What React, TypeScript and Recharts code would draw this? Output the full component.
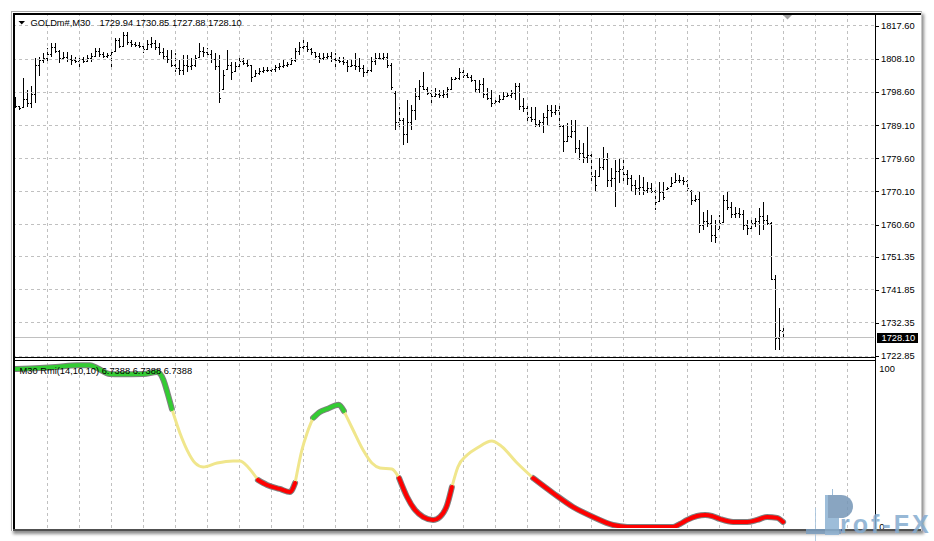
import React from 'react';
import { ComposedChart, LineChart, Bar, Line, XAxis, YAxis, ReferenceLine } from 'recharts';

const FONT = "'Liberation Sans', Arial, sans-serif";

const symbolTitle = 'GOLDm#,M30';
const lastQuote = '1729.94 1730.85 1727.88 1728.10';
const rmiTitle = 'M30 Rmi(14,10,10) 6.7388 6.7388 6.7388';

const opens = [
  1796.0, 1794.5, 1794.1, 1796.5, 1795.5, 1798.0, 1806.5, 1807.8, 1808.3, 1809.5,
  1811.5, 1810.5, 1808.5, 1808.8, 1808.0, 1807.8, 1807.5, 1808.0, 1807.5, 1808.5,
  1809.0, 1810.5, 1809.5, 1809.0, 1809.2, 1810.2, 1813.5, 1812.0, 1815.0, 1813.0,
  1812.5, 1812.2, 1812.0, 1811.0, 1812.5, 1812.8, 1811.5, 1810.0, 1809.0, 1808.0,
  1806.5, 1805.5, 1805.0, 1806.5, 1806.0, 1806.5, 1808.5, 1810.5, 1810.0, 1809.5,
  1808.0, 1806.0, 1799.5, 1805.0, 1806.5, 1804.5, 1806.0, 1807.5, 1807.0, 1806.3,
  1803.0, 1804.0, 1804.8, 1805.0, 1805.0, 1805.2, 1805.8, 1806.0, 1806.5, 1806.8,
  1807.8, 1810.5, 1811.5, 1812.0, 1811.0, 1810.0, 1809.0, 1808.5, 1808.8, 1809.0,
  1808.2, 1807.8, 1807.5, 1807.2, 1806.0, 1806.5, 1806.0, 1805.5, 1804.5, 1805.0,
  1807.5, 1808.5, 1808.5, 1808.8, 1806.5, 1798.5, 1790.0, 1790.5, 1786.5, 1790.0,
  1793.5, 1797.5, 1800.5, 1799.5, 1798.5, 1797.5, 1798.2, 1797.8, 1798.0, 1799.5,
  1802.5, 1802.6, 1804.5, 1803.5, 1803.0, 1802.0, 1799.5, 1801.0, 1798.0, 1797.0,
  1795.5, 1796.0, 1796.5, 1797.5, 1797.8, 1798.5, 1800.5, 1794.5, 1794.0, 1791.5,
  1791.0, 1789.5, 1790.0, 1791.5, 1793.5, 1793.0, 1793.5, 1789.0, 1784.5, 1786.0,
  1787.5, 1782.5, 1781.0, 1780.0, 1780.5, 1774.5, 1774.5, 1777.0, 1779.5, 1773.5,
  1774.0, 1776.0, 1776.5, 1775.0, 1774.0, 1772.0, 1771.0, 1771.5, 1770.5, 1771.0,
  1770.2, 1767.2, 1770.0, 1770.6, 1771.5, 1772.5, 1773.5, 1773.5, 1773.0, 1770.3,
  1767.5, 1768.0, 1760.5, 1761.5, 1761.0, 1757.5, 1759.2, 1761.1, 1767.5, 1765.5,
  1763.5, 1764.0, 1763.5, 1760.5, 1759.5, 1761.0, 1761.5, 1763.0, 1762.0, 1761.0,
  1745.0, 1728.0, 1729.94,
];

const highs = [
  1797.22, 1794.63, 1802.67, 1799.23, 1800.37, 1808.41, 1808.70, 1809.85, 1811.28, 1812.72,
  1812.72, 1810.71, 1810.14, 1810.14, 1809.27, 1808.70, 1809.27, 1808.70, 1809.27, 1809.85,
  1811.28, 1811.28, 1810.14, 1809.85, 1810.71, 1814.15, 1814.15, 1815.88, 1815.88, 1813.58,
  1813.01, 1813.01, 1812.72, 1813.58, 1814.44, 1813.58, 1812.72, 1811.28, 1810.71, 1810.71,
  1809.85, 1807.84, 1809.27, 1809.27, 1808.41, 1809.27, 1812.72, 1811.57, 1811.28, 1810.71,
  1809.85, 1809.27, 1804.97, 1810.71, 1807.26, 1807.26, 1809.27, 1808.41, 1807.84, 1806.40,
  1804.97, 1805.54, 1805.83, 1805.83, 1805.83, 1806.40, 1806.98, 1807.84, 1807.26, 1808.41,
  1811.28, 1813.01, 1813.58, 1813.01, 1811.28, 1810.14, 1809.85, 1809.85, 1809.85, 1810.14,
  1809.85, 1808.70, 1808.70, 1807.84, 1807.84, 1809.85, 1808.41, 1806.40, 1805.54, 1808.70,
  1809.85, 1809.85, 1809.85, 1809.85, 1806.98, 1799.00, 1794.34, 1791.19, 1796.35, 1794.92,
  1799.80, 1802.10, 1804.39, 1800.09, 1799.23, 1799.80, 1799.23, 1799.23, 1800.09, 1802.96,
  1802.96, 1805.54, 1804.97, 1804.11, 1803.53, 1802.10, 1802.10, 1802.67, 1799.80, 1799.23,
  1797.22, 1797.79, 1798.65, 1798.65, 1799.23, 1801.24, 1801.24, 1796.93, 1794.92, 1794.34,
  1794.34, 1790.61, 1792.62, 1794.92, 1794.92, 1794.92, 1794.92, 1789.18, 1789.75, 1790.61,
  1790.61, 1784.87, 1784.01, 1788.60, 1781.43, 1776.26, 1779.70, 1782.86, 1781.14, 1776.83,
  1779.13, 1779.70, 1779.70, 1776.26, 1774.82, 1773.39, 1774.82, 1774.25, 1772.81, 1772.53,
  1770.52, 1772.81, 1772.81, 1771.38, 1774.25, 1775.40, 1774.82, 1774.25, 1773.39, 1770.52,
  1769.08, 1769.94, 1764.20, 1764.77, 1763.34, 1761.90, 1763.34, 1769.08, 1769.94, 1767.07,
  1765.63, 1765.35, 1764.77, 1761.90, 1762.48, 1762.48, 1765.35, 1767.07, 1763.34, 1761.33,
  1746.11, 1736.64, 1730.85,
];

const lows = [
  1794.06, 1793.48, 1794.06, 1794.34, 1794.06, 1795.49, 1803.24, 1806.98, 1807.26, 1808.70,
  1809.85, 1806.98, 1807.84, 1807.26, 1806.40, 1806.98, 1805.83, 1806.98, 1807.26, 1807.26,
  1808.70, 1808.70, 1808.41, 1808.41, 1805.83, 1810.14, 1811.28, 1811.57, 1812.15, 1811.57,
  1811.57, 1811.28, 1809.85, 1810.71, 1811.28, 1810.71, 1809.27, 1807.84, 1806.98, 1805.83,
  1804.39, 1803.53, 1803.53, 1804.39, 1804.97, 1805.83, 1808.41, 1808.70, 1808.41, 1806.98,
  1804.97, 1795.49, 1799.23, 1804.97, 1802.10, 1804.39, 1805.83, 1806.40, 1805.83, 1801.52,
  1802.96, 1803.53, 1804.11, 1804.39, 1804.39, 1804.39, 1804.97, 1805.54, 1805.83, 1806.40,
  1807.26, 1809.27, 1810.71, 1810.14, 1809.27, 1808.41, 1806.98, 1807.84, 1807.84, 1807.26,
  1805.83, 1806.98, 1806.40, 1804.39, 1805.83, 1804.97, 1804.39, 1802.96, 1804.11, 1804.39,
  1806.40, 1807.84, 1807.84, 1805.54, 1799.23, 1787.74, 1788.32, 1783.44, 1784.01, 1787.74,
  1790.61, 1796.35, 1799.23, 1797.79, 1794.92, 1797.22, 1796.93, 1796.93, 1796.93, 1799.23,
  1802.10, 1802.10, 1802.67, 1802.67, 1801.52, 1798.36, 1798.36, 1796.93, 1796.35, 1794.34,
  1794.92, 1795.49, 1796.35, 1797.22, 1796.93, 1796.35, 1793.48, 1792.91, 1790.04, 1790.04,
  1788.60, 1788.60, 1786.88, 1789.18, 1791.47, 1792.05, 1787.74, 1781.43, 1784.30, 1785.44,
  1781.14, 1779.13, 1778.27, 1778.27, 1772.81, 1769.94, 1774.25, 1776.26, 1771.38, 1771.38,
  1765.63, 1772.53, 1772.53, 1771.95, 1769.94, 1769.08, 1769.08, 1769.08, 1769.65, 1769.65,
  1764.77, 1767.07, 1767.64, 1770.52, 1771.38, 1772.53, 1772.53, 1771.95, 1769.94, 1766.21,
  1767.07, 1758.17, 1759.03, 1759.89, 1755.59, 1755.30, 1759.03, 1761.04, 1764.77, 1762.48,
  1762.48, 1762.48, 1759.03, 1757.60, 1758.46, 1759.89, 1757.60, 1759.03, 1760.47, 1744.68,
  1724.58, 1724.58, 1727.88,
];

const closes = [
  1794.5, 1794.0, 1796.5, 1795.5, 1798.0, 1806.5, 1807.8, 1808.3, 1809.5, 1811.5,
  1810.5, 1808.5, 1808.8, 1808.0, 1807.8, 1807.5, 1808.0, 1807.5, 1808.5, 1809.0,
  1810.5, 1809.5, 1809.0, 1809.2, 1810.0, 1813.5, 1812.0, 1815.0, 1813.0, 1812.5,
  1812.2, 1812.0, 1811.0, 1812.5, 1812.8, 1811.5, 1810.0, 1809.0, 1808.0, 1806.5,
  1805.5, 1805.0, 1806.5, 1806.0, 1806.5, 1808.5, 1810.5, 1810.0, 1809.5, 1808.0,
  1806.0, 1797.0, 1803.5, 1806.5, 1804.5, 1806.0, 1807.5, 1807.0, 1806.5, 1803.0,
  1804.0, 1804.8, 1805.0, 1805.0, 1805.2, 1805.8, 1806.0, 1806.5, 1806.8, 1807.8,
  1810.5, 1811.5, 1812.0, 1811.0, 1810.0, 1809.0, 1808.5, 1808.8, 1809.0, 1808.2,
  1807.8, 1807.5, 1807.2, 1806.0, 1806.5, 1806.0, 1805.5, 1804.5, 1805.0, 1807.5,
  1808.5, 1808.5, 1808.8, 1806.5, 1800.0, 1790.0, 1790.5, 1786.5, 1790.0, 1793.5,
  1797.5, 1800.5, 1799.5, 1798.5, 1797.5, 1798.2, 1797.8, 1798.0, 1799.5, 1802.5,
  1802.6, 1804.5, 1803.5, 1803.0, 1802.0, 1799.5, 1801.0, 1798.0, 1797.0, 1795.5,
  1796.0, 1796.5, 1797.5, 1797.8, 1798.5, 1800.5, 1794.5, 1794.0, 1791.5, 1791.0,
  1789.5, 1790.0, 1791.5, 1793.5, 1793.0, 1793.5, 1789.0, 1784.5, 1786.0, 1787.5,
  1782.5, 1781.0, 1780.0, 1780.5, 1774.5, 1772.0, 1777.0, 1779.5, 1773.5, 1774.0,
  1776.0, 1776.5, 1775.0, 1774.0, 1772.0, 1771.0, 1771.5, 1770.5, 1771.0, 1770.2,
  1767.0, 1770.0, 1768.5, 1771.0, 1772.5, 1773.5, 1773.5, 1773.0, 1771.0, 1767.5,
  1768.0, 1760.5, 1761.5, 1761.0, 1757.5, 1757.0, 1761.0, 1767.5, 1765.5, 1763.5,
  1764.0, 1763.5, 1760.5, 1759.5, 1761.0, 1761.5, 1763.0, 1762.0, 1761.0, 1745.0,
  1728.0, 1730.2, 1728.10,
];

const lastClose = 1728.10;
const priceTicks = [1817.60, 1808.10, 1798.60, 1789.10, 1779.60, 1770.10, 1760.60, 1751.35, 1741.85, 1732.35, 1722.85];
const priceDomain = [1722.28, 1821.045];
const gridBars = [8, 16, 24, 32, 40, 48, 56, 64, 72, 80, 88, 96, 104, 112, 120, 128, 136, 144, 152, 160, 168, 176, 184, 192, 200, 208];
const slotCount = 215;

// RMI indicator, read at bar positions
const rmiIndex = [
  0, 6, 10, 15.4, 18.6, 20.4, 23.6, 26, 32, 35.4, 37, 38, 39.1,
  41.1, 42.9, 44.9, 46.9, 50.4, 54.4, 56.1, 58.1, 60.6,
  62.9, 66.1, 68.6, 69.9,
  71.6, 72.9, 74.4,
  76.1, 77.9, 80.8, 82.1,
  84.4, 86.9, 89.1, 91.1, 94.1, 95.9,
  97.9, 99.9, 101.9, 104.4, 106.1, 107.9, 109.1,
  110.6, 112.9, 115.4, 119.1, 121.1, 125.4, 129.4,
  134.4, 139.4, 144.4, 149.4, 152.9, 158.6, 164.4, 166.1, 167.9, 170.4, 172.4, 174.1, 176.1, 179.4, 182.9, 185.4, 187.9, 190.4, 191.9,
];
const rmiValue = [
  99.6, 100.2, 100.8, 102, 102, 100.2, 96.4, 96.2, 96.4, 97.7, 92.6, 84.4, 74.3,
  59.1, 48.3, 40.1, 37.6, 40.1, 41.4, 41.4, 37.6, 29.4,
  26.2, 23.7, 21.8, 27.5,
  48.3, 59.1, 68.6,
  72.4, 74.3, 77.0, 73.0,
  61.0, 48.3, 40.1, 37.0, 36.3, 30.6,
  18.6, 10.4, 6.0, 4.1, 6.0, 13.5, 24.9,
  37.6, 45.2, 49.6, 54.0, 51.5, 40.1, 30.6,
  21.1, 12.3, 6.0, 0.9, -0.3, -0.4, -0.3, 1.5, 4.1, 6.6, 7.2, 6.6, 4.7, 2.8, 2.8, 4.1, 6.0, 5.4, 2.8,
];
const rmiZones = [
  { zone: 'up', from: 0, to: 12 },
  { zone: 'mid', from: 12, to: 21 },
  { zone: 'down', from: 21, to: 25 },
  { zone: 'mid', from: 25, to: 28 },
  { zone: 'up', from: 28, to: 32 },
  { zone: 'mid', from: 32, to: 38 },
  { zone: 'down', from: 38, to: 45 },
  { zone: 'mid', from: 45, to: 52 },
  { zone: 'down', from: 52, to: 71 },
];
const rmiTicks = [0, 100];
const rmiDomain = [-1, 104];

const zoneColor: Record<string, string> = { up: '#33cc33', mid: '#f0e68c', down: '#ff0000' };

const rows = Array.from({ length: slotCount }, (_, i) =>
  i < highs.length
    ? { i, range: [lows[i], highs[i]], o: opens[i], h: highs[i], l: lows[i], c: closes[i] }
    : { i, range: null }
);

const rmiSegments = rmiZones.map((z) => ({
  zone: z.zone,
  points: rmiIndex.slice(z.from, z.to + 1).map((x, k) => ({ x, v: rmiValue[z.from + k] })),
}));

const OhlcShape = (props: any) => {
  const { x, y, width, height, payload } = props;
  if (!payload || payload.h == null || x == null || y == null) return null;
  const top = Math.min(y, y + height);
  const h = Math.abs(height);
  const span = payload.h - payload.l;
  const toY = (p: number) => (span > 0 ? top + ((payload.h - p) / span) * h : top);
  const cx = Math.floor(x + width / 2);
  const yTop = Math.round(top);
  const yBot = Math.round(top + h);
  const yo = Math.min(yBot - 1, Math.round(toY(payload.o)));
  const yc = Math.min(yBot - 1, Math.round(toY(payload.c)));
  return (
    <g shapeRendering="crispEdges" fill="#000">
      <rect x={cx} y={yTop} width={1} height={Math.max(1, yBot - yTop)} />
      <rect x={cx - 1} y={yo} width={1} height={1} />
      <rect x={cx + 1} y={yc} width={1} height={1} />
    </g>
  );
};

const PriceTick = (props: any) => {
  const { x, y, payload } = props;
  const v = payload.value as number;
  const label = v.toFixed(2);
  if (Math.abs(v - lastClose) < 1e-6) {
    return (
      <g>
        <rect x={x + 3.5} y={Math.round(y) - 5} width={41} height={10} fill="#000" shapeRendering="crispEdges" />
        <text x={x + 8} y={y} dy={3.3} fill="#fff" fontSize={9.3} fontFamily={FONT}>{label}</text>
      </g>
    );
  }
  const ly = Math.round(y) + 0.5;
  return (
    <g>
      <line x1={x + 2.5} x2={x + 5.5} y1={ly} y2={ly} stroke="#000" strokeWidth={1} shapeRendering="crispEdges" />
      <text x={x + 7.5} y={y} dy={3.3} fill="#000" fontSize={9.3} fontFamily={FONT}>{label}</text>
    </g>
  );
};

const RmiTick = (props: any) => {
  const { x, y, payload } = props;
  return (
    <text x={x + 5.8} y={y} dy={3.3} fill="#000" fontSize={9.3} fontFamily={FONT}>{String(payload.value)}</text>
  );
};

export default function App() {
  return (
    <div style={{ position: 'absolute', left: 0, top: 0, width: 934, height: 541, background: '#fff', overflow: 'hidden' }}>
      {/* window body */}
      <div
        style={{
          position: 'absolute', left: 11, top: 11, width: 911, height: 520, boxSizing: 'border-box',
          background: '#fff', borderTop: '1px solid #a8a8a8', borderLeft: '1px solid #a8a8a8',
          borderRight: '1px solid #c8c8c8', boxShadow: '2px 3px 3px rgba(0,0,0,0.45)',
        }}
      />
      {/* main price pane */}
      <div style={{ position: 'absolute', left: 0, top: 0 }}>
        <ComposedChart width={934} height={360} data={rows} margin={{ top: 14, right: 10.5, bottom: 2, left: 13.5 }} barCategoryGap={0} barGap={0}>
          <XAxis dataKey="i" type="category" hide />
          <YAxis
            orientation="right" type="number" domain={priceDomain} allowDataOverflow
            ticks={[...priceTicks, lastClose]} interval={0} width={50}
            axisLine={false} tickLine={false} tickSize={0} tickMargin={0} tick={PriceTick}
          />
          {gridBars.map((g) => (
            <ReferenceLine key={'vx' + g} x={g} stroke="#c0c0c0" strokeDasharray="3 3" shapeRendering="crispEdges" />
          ))}
          {priceTicks.map((p) => (
            <ReferenceLine key={'hy' + p} y={p} stroke="#c0c0c0" strokeDasharray="3 3" shapeRendering="crispEdges" />
          ))}
          <ReferenceLine y={lastClose} stroke="#c0c0c0" shapeRendering="crispEdges" />
          <Bar dataKey="range" shape={OhlcShape} isAnimationActive={false} />
        </ComposedChart>
      </div>
      {/* indicator pane */}
      <div style={{ position: 'absolute', left: 0, top: 361 }}>
        <LineChart width={934} height={170} margin={{ top: 1, right: 10.5, bottom: 3, left: 13.5 }}>
          <XAxis dataKey="x" type="number" domain={[-0.5, slotCount - 0.5]} allowDataOverflow hide />
          <YAxis
            orientation="right" type="number" domain={rmiDomain} allowDataOverflow ticks={rmiTicks}
            interval={0} width={50} axisLine={false} tickLine={false} tickSize={0} tickMargin={0} tick={RmiTick}
          />
          {gridBars.map((g) => (
            <ReferenceLine key={'ivx' + g} x={g} stroke="#c0c0c0" strokeDasharray="3 3" shapeRendering="crispEdges" />
          ))}
          {rmiSegments.filter((s) => s.zone !== 'mid').map((s, k) => (
            <Line key={'o' + k} data={s.points} dataKey="v" type="monotone" stroke="#808080" strokeWidth={6}
              strokeLinecap="round" strokeLinejoin="round" dot={false} activeDot={false} isAnimationActive={false} />
          ))}
          {rmiSegments.filter((s) => s.zone === 'mid').map((s, k) => (
            <Line key={'m' + k} data={s.points} dataKey="v" type="monotone" stroke={zoneColor.mid} strokeWidth={3}
              dot={false} activeDot={false} isAnimationActive={false} />
          ))}
          {rmiSegments.filter((s) => s.zone !== 'mid').map((s, k) => (
            <Line key={'c' + k} data={s.points} dataKey="v" type="monotone" stroke={zoneColor[s.zone]} strokeWidth={4}
              strokeLinecap="round" strokeLinejoin="round" dot={false} activeDot={false} isAnimationActive={false} />
          ))}
        </LineChart>
      </div>
      {/* frame, titles, watermark */}
      <svg width={934} height={541} style={{ position: 'absolute', left: 0, top: 0, pointerEvents: 'none' }}>
        <g shapeRendering="crispEdges">
          <rect x={13} y={13} width={908} height={2} fill="#000" />
          <rect x={13} y={13} width={2} height={517} fill="#000" />
          <rect x={875} y={13} width={1} height={517} fill="#000" />
          <rect x={13} y={357} width={862} height={1} fill="#000" />
          <rect x={13} y={360} width={862} height={1} fill="#000" />
          <rect x={13} y={529} width={908} height={2} fill="#505050" />
        </g>
        <polygon points="783,15 792,15 787.5,19.5" fill="#a0a0a0" />
        <polygon points="18.5,21 25,21 21.75,24.5" fill="#000" />
        <text x={30.5} y={26} fontSize={9.3} fontFamily={FONT} fill="#000">{symbolTitle}</text>
        <text x={99.5} y={26} fontSize={9.3} fontFamily={FONT} fill="#000">{lastQuote}</text>
        <text x={19.5} y={374} fontSize={9.3} fontFamily={FONT} fill="#000">{rmiTitle}</text>
        <g opacity={0.85}>
          <line x1={815.5} y1={508} x2={815.5} y2={541} stroke="#a8c4dd" strokeWidth={1} />
          <rect x={806} y={529} width={35} height={5} fill="#7d9fc0" />
          <line x1={832.5} y1={489} x2={832.5} y2={496} stroke="#8db2d3" strokeWidth={1} />
          <rect x={825} y={495} width={14} height={40} fill="#8db2d3" />
          <path d="M 828 495 L 841 495 A 12 11.5 0 0 1 841 518 L 828 518 Z" fill="#7596b7" />
          <text x={840} y={533} fontSize={25} fontWeight="bold" letterSpacing={3} fontFamily={FONT} fill="#86acd0">rof-FX</text>
        </g>
      </svg>
    </div>
  );
}
